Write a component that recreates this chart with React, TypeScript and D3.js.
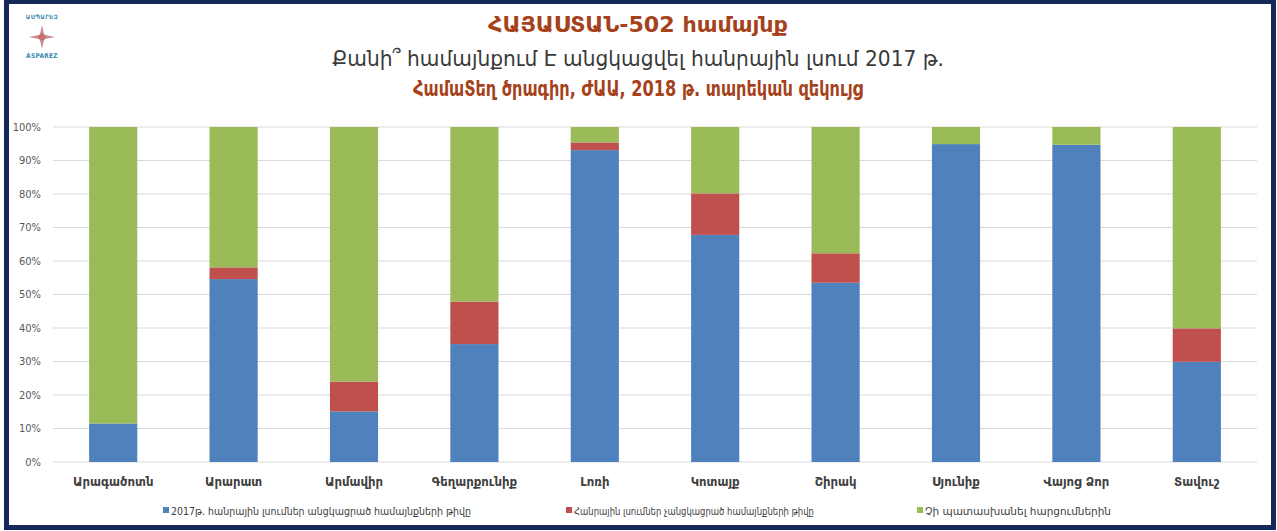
import React from "react";
import * as d3 from "d3";

const regions = [
  "Արագածոտն",
  "Արարատ",
  "Արմավիր",
  "Գեղարքունիք",
  "Լոռի",
  "Կոտայք",
  "Շիրակ",
  "Սյունիք",
  "Վայոց Ձոր",
  "Տավուշ",
];

// shares in percent
const held = [11.5, 54.6, 15.1, 35.2, 93.1, 67.8, 53.5, 94.9, 94.7, 29.9];
const notHeld = [0, 3.5, 8.9, 12.7, 2.3, 12.4, 8.8, 0, 0, 10.0];
const noAnswer = [88.5, 41.9, 76.0, 52.1, 4.6, 19.8, 37.7, 5.1, 5.3, 60.1];

const seriesNames = [
  "2017թ. հանրային լսումներ անցկացրած համայնքների թիվը",
  "Հանրային լսումներ չանցկացրած համայնքների թիվը",
  "Չի պատասխանել հարցումներին",
];
const colors = ["#4f81bd", "#c0504d", "#9bbb59"];
const yTicks = [0, 10, 20, 30, 40, 50, 60, 70, 80, 90, 100];

const W = 1277;
const H = 531;
const margin = { top: 127, right: 20, bottom: 69, left: 53 };
const font = "'DejaVu Sans Condensed', 'DejaVu Sans', sans-serif";

// legend columns (marker x, text width)
const legendX = [163, 566, 917];
const legendLen = [300, 240, 186];

export default function App() {
  const innerWidth = W - margin.left - margin.right;
  const innerHeight = H - margin.top - margin.bottom;

  const rows = regions.map((r, i) => ({ region: r, a: held[i], b: notHeld[i], c: noAnswer[i] }));
  const stacked = d3.stack<any>().keys(["a", "b", "c"])(rows);

  const x = d3.scaleBand().domain(regions).range([0, innerWidth]).paddingInner(0.6).paddingOuter(0.3);
  const y = d3.scaleLinear().domain([0, 100]).range([innerHeight, 0]);

  return (
    <div style={{ position: "fixed", left: 0, top: 0, width: W, height: H, background: "#fff" }}>
      <svg width={W} height={H} style={{ display: "block", fontFamily: font }}>
        <rect x={0} y={0} width={W} height={H} fill="#fff" />
        <rect x={6.5} y={1.5} width={W - 10} height={H - 5} fill="none" stroke="#14285a" strokeWidth={5} />

        {/* logo */}
        <g transform="translate(42,37)">
          <text y={-18} textAnchor="middle" fontSize={6} fontWeight="bold" fill="#3a8ab0" letterSpacing={0.5}>
            ԱՍՊԱՐԵԶ
          </text>
          <path d="M0,-12 L2.2,-2.2 L13,0 L2.2,2.2 L0,12 L-2.2,2.2 L-13,0 L-2.2,-2.2 Z" fill="#c87878" opacity={0.85} />
          <circle r={3.5} fill="#b85a5a" opacity={0.55} />
          <text y={21} textAnchor="middle" fontSize={6.5} fontWeight="bold" fill="#3a8ab0" letterSpacing={0.3}>
            ASPAREZ
          </text>
        </g>

        {/* titles */}
        <g textAnchor="middle">
          <text x={638} y={32} fontSize={22} fontWeight="bold" fill="#a5421c" textLength={300} lengthAdjust="spacingAndGlyphs">
            ՀԱՅԱՍՏԱՆ-502 համայնք
          </text>
          <text x={638} y={66} fontSize={22} fill="#3a3a3a" textLength={612} lengthAdjust="spacingAndGlyphs">
            Քանի՞ համայնքում Է անցկացվել հանրային լսում 2017 թ.
          </text>
          <text x={638} y={96} fontSize={21} fontWeight="bold" fill="#a5421c" textLength={450} lengthAdjust="spacingAndGlyphs">
            ՀամաՏեղ ծրագիր, ԺԱԱ, 2018 թ. տարեկան զեկույց
          </text>
        </g>

        <g transform={`translate(${margin.left},${margin.top})`}>
          {yTicks.map(t => (
            <g key={t}>
              <line x1={0} x2={innerWidth} y1={y(t)} y2={y(t)} stroke="#d9d9d9" strokeWidth={1} />
              <text x={-12} y={y(t)} dy="0.35em" textAnchor="end" fontSize={11} fill="#595959">
                {t}%
              </text>
            </g>
          ))}

          {stacked.map((s, si) => (
            <g key={si} fill={colors[si]}>
              {s.map((d, i) => (
                <rect
                  key={i}
                  x={x(regions[i])}
                  width={x.bandwidth()}
                  y={y(d[1])}
                  height={Math.max(0, y(d[0]) - y(d[1]))}
                />
              ))}
            </g>
          ))}

          {regions.map(r => (
            <text
              key={r}
              x={(x(r) ?? 0) + x.bandwidth() / 2}
              y={innerHeight + 24}
              textAnchor="middle"
              fontSize={13}
              fontWeight="bold"
              fill="#404040"
            >
              {r}
            </text>
          ))}
        </g>

        {/* legend */}
        {seriesNames.map((n, i) => (
          <g key={n} transform={`translate(${legendX[i]},515)`}>
            <rect x={0} y={-8} width={6} height={6} fill={colors[i]} />
            <text x={8} y={0} fontSize={11} fill="#404040" textLength={legendLen[i]} lengthAdjust="spacingAndGlyphs">
              {n}
            </text>
          </g>
        ))}
      </svg>
    </div>
  );
}
